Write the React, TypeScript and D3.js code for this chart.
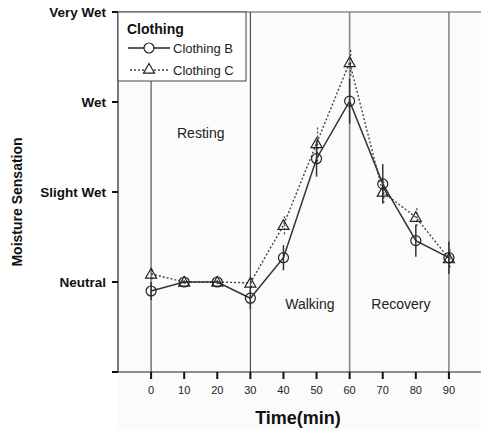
import React from "react";
import * as d3 from "d3";

const times = [0, 10, 20, 30, 40, 50, 60, 70, 80, 90];
const clothingB = [0.9, 1.0, 1.0, 0.82, 1.27, 2.37, 3.01, 2.09, 1.46, 1.27];
const clothingC = [1.09, 1.0, 1.0, 0.99, 1.63, 2.54, 3.44, 2.0, 1.72, 1.26];
const errB = [0.1, 0.02, 0.02, 0.12, 0.14, 0.2, 0.25, 0.22, 0.18, 0.18];
const errC = [0.06, 0.02, 0.02, 0.05, 0.1, 0.2, 0.15, 0.12, 0.1, 0.1];
const yTickValues = [0, 1, 2, 3, 4];
const yTickLabels = ["", "Neutral", "Slight Wet", "Wet", "Very Wet"];
const phaseLines = [0, 30, 60, 90];
const phaseLabels = [
  { text: "Resting", t: 15, v: 2.6 },
  { text: "Walking", t: 48, v: 0.7 },
  { text: "Recovery", t: 75.5, v: 0.7 },
];

export default function App() {
  const W = 481, H = 430;
  const left = 118, right = 482, top = 12, bottom = 372;
  const x = d3.scaleLinear().domain([-10, 100]).range([left, right]);
  const y = d3.scaleLinear().domain([0, 4]).range([bottom, top]);
  const line = d3.line<number>().x((_, i) => x(times[i])).y((d) => y(d));
  const font = "Arial, 'Liberation Sans', sans-serif";
  const tri = (cx: number, cy: number, s = 5.5) =>
    `M${cx},${cy - s}L${cx + s},${cy + s * 0.75}L${cx - s},${cy + s * 0.75}Z`;
  const legendBottom = 81;

  return (
    <svg width={W} height={H} style={{ position: "absolute", left: 0, top: 0, fontFamily: font }}>
      <rect x={0} y={0} width={W} height={H} fill="#fff" />
      <rect x={left} y={top} width={W - left} height={H - top} fill="#fbfbfb" />
      {/* phase lines */}
      {phaseLines.map((t, i) => (
        <line key={t} x1={x(t)} x2={x(t)} y1={t === 0 ? legendBottom : top} y2={bottom}
          stroke={i < 2 ? "#333" : "#888"} strokeWidth={i < 2 ? 1 : 1.6} />
      ))}
      {/* top frame */}
      <line x1={left} x2={W} y1={top} y2={top} stroke="#555" strokeWidth={1} />
      {/* axes */}
      <line x1={left} x2={left} y1={top} y2={bottom} stroke="#222" strokeWidth={1.2} />
      <line x1={left} x2={W} y1={bottom} y2={bottom} stroke="#222" strokeWidth={1.2} />
      {yTickValues.map((v, i) => (
        <g key={v}>
          <line x1={left - 6} x2={left} y1={y(v)} y2={y(v)} stroke="#111" strokeWidth={2} />
          <text x={106} y={y(v) + 5} textAnchor="end" fontSize={13.5} fontWeight="bold" fill="#111">
            {yTickLabels[i]}
          </text>
        </g>
      ))}
      {times.map((t) => (
        <g key={t}>
          <line x1={x(t)} x2={x(t)} y1={bottom} y2={bottom + 7} stroke="#111" strokeWidth={2} />
          <text x={x(t)} y={bottom + 22} textAnchor="middle" fontSize={11} fill="#222">{t}</text>
        </g>
      ))}
      <text x={298} y={424} textAnchor="middle" fontSize={18} fontWeight="bold" fill="#111">Time(min)</text>
      <text transform={`translate(22,${(top + bottom) / 2 + 10}) rotate(-90)`} textAnchor="middle"
        fontSize={14} fontWeight="bold" fill="#111">Moisture Sensation</text>
      {phaseLabels.map((p) => (
        <text key={p.text} x={x(p.t)} y={y(p.v)} textAnchor="middle" fontSize={14} fill="#222">{p.text}</text>
      ))}
      {/* error bars */}
      {clothingC.map((v, i) => (
        <line key={"ec" + i} x1={x(times[i]) + 1} x2={x(times[i]) + 1} y1={y(v - errC[i])} y2={y(v + errC[i])}
          stroke="#444" strokeWidth={1.3} strokeDasharray="2,2" />
      ))}
      {clothingB.map((v, i) => (
        <line key={"eb" + i} x1={x(times[i])} x2={x(times[i])} y1={y(v - errB[i])} y2={y(v + errB[i])}
          stroke="#333" strokeWidth={1.5} />
      ))}
      {/* lines */}
      <path d={line(clothingC) || ""} fill="none" stroke="#444" strokeWidth={1.4} strokeDasharray="2,2" />
      <path d={line(clothingB) || ""} fill="none" stroke="#333" strokeWidth={1.5} />
      {clothingC.map((v, i) => (
        <path key={"tc" + i} d={tri(x(times[i]), y(v))} fill="none" stroke="#222" strokeWidth={1.2} />
      ))}
      {clothingB.map((v, i) => (
        <circle key={"cb" + i} cx={x(times[i])} cy={y(v)} r={5} fill="none" stroke="#222" strokeWidth={1.2} />
      ))}
      {/* legend */}
      <rect x={left} y={top} width={128} height={legendBottom - top} fill="#fff" stroke="#444" strokeWidth={1} />
      <text x={127} y={34} fontSize={14} fontWeight="bold" fill="#111">Clothing</text>
      <line x1={128} x2={170} y1={48} y2={48} stroke="#222" strokeWidth={1.3} />
      <circle cx={149} cy={48} r={5} fill="#fff" stroke="#222" strokeWidth={1.2} />
      <text x={173} y={53} fontSize={13} fill="#222">Clothing B</text>
      <line x1={130} x2={170} y1={70} y2={70} stroke="#444" strokeWidth={1.3} strokeDasharray="2,2" />
      <path d={tri(149, 69)} fill="#fff" stroke="#222" strokeWidth={1.2} />
      <text x={173} y={75} fontSize={13} fill="#222">Clothing C</text>
    </svg>
  );
}
